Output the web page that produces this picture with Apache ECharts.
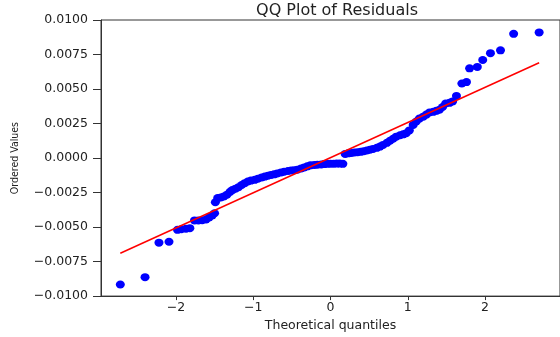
<!DOCTYPE html>
<html>
<head>
<meta charset="utf-8">
<script src="https://cdn.jsdelivr.net/npm/echarts@6/dist/echarts.min.js"></script>
<style>
  html, body { margin: 0; padding: 0; background: #fff; }
  #main { width: 560px; height: 337px; }
</style>
</head>
<body>
<div id="main"></div>
<script>
// 理论分位数
const quantiles = [
  -2.72, -2.40, -2.22, -2.09, -1.98, -1.93, -1.87, -1.82, -1.76, -1.71,
  -1.66, -1.61, -1.57, -1.53, -1.50, -1.49, -1.46, -1.42, -1.38, -1.34,
  -1.30, -1.27, -1.23, -1.19, -1.15, -1.11, -1.07, -1.03, -0.98, -0.94,
  -0.89, -0.85, -0.81, -0.77, -0.73, -0.69, -0.64, -0.60, -0.55, -0.51,
  -0.47, -0.43, -0.38, -0.34, -0.30, -0.26, -0.21, -0.17, -0.12, -0.08,
  -0.04, 0.00, 0.04, 0.08, 0.12, 0.16,
  0.19, 0.23, 0.27, 0.31, 0.35, 0.39, 0.43, 0.47, 0.51, 0.55,
  0.60, 0.64, 0.68, 0.73, 0.77, 0.81, 0.85, 0.90, 0.94, 0.98,
  1.02, 1.07, 1.11, 1.15, 1.20, 1.24, 1.28, 1.33, 1.37, 1.41,
  1.45, 1.49, 1.54, 1.58, 1.63, 1.70, 1.76, 1.80, 1.90, 1.97,
  2.07, 2.20, 2.37, 2.70,
]
// 排序后的残差
const orderedValues = [
  -0.00916, -0.00863, -0.00613, -0.00606, -0.00520, -0.00515, -0.00512, -0.00508, -0.00452, -0.00452,
  -0.00450, -0.00445, -0.00430, -0.00415, -0.00400, -0.00320, -0.00290, -0.00285, -0.00278, -0.00265,
  -0.00245, -0.00232, -0.00222, -0.00211, -0.00195, -0.00182, -0.00170, -0.00163, -0.00158, -0.00150,
  -0.00140, -0.00134, -0.00128, -0.00122, -0.00118, -0.00112, -0.00104, -0.00099, -0.00094, -0.00090,
  -0.00088, -0.00085, -0.00075, -0.00068, -0.00060, -0.00053, -0.00050, -0.00048, -0.00046, -0.00044,
  -0.00042, -0.00041, -0.00041, -0.00040, -0.00040, -0.00042,
  0.00030, 0.00034, 0.00037, 0.00040, 0.00042, 0.00045, 0.00050, 0.00055, 0.00060, 0.00066,
  0.00074, 0.00083, 0.00095, 0.00110, 0.00125, 0.00140, 0.00155, 0.00165, 0.00172, 0.00180,
  0.00200, 0.00240, 0.00265, 0.00286, 0.00300, 0.00315, 0.00330, 0.00335, 0.00342, 0.00350,
  0.00370, 0.00395, 0.00400, 0.00410, 0.00450, 0.00540, 0.00550, 0.00650, 0.00660, 0.00710,
  0.00760, 0.00780, 0.00900, 0.00910,
]
// 拟合线端点
const fitX = [-2.72, 2.70]
const fitY = [-0.0069, 0.0069]
// 刻度
const xTicks = [-2, -1, 0, 1, 2]

const minus = (s) => s.replace('-', '\u2212')
const labelFont = 'DejaVu Sans'

const myEchart = echarts.init(document.querySelector('#main'))
myEchart.setOption({
  animation: false,
  title: {
    text: 'QQ Plot of Residuals',
    left: 332,
    textAlign: 'center',
    top: -2,
    textStyle: {
      fontFamily: labelFont,
      fontSize: 16,
      fontWeight: 'normal',
      color: '#222',
    },
  },
  grid: {
    left: 101,
    top: 20,
    width: 465,
    height: 286,
    show: true,
    borderColor: '#333',
    borderWidth: 1,
  },
  xAxis: {
    type: 'value',
    min: -2.97,
    max: 2.97,
    name: 'Theoretical quantiles',
    nameLocation: 'middle',
    nameGap: 19,
    nameTextStyle: {
      fontFamily: labelFont,
      fontSize: 12.5,
      color: '#222',
    },
    axisLine: { onZero: false, lineStyle: { color: '#333' } },
    axisTick: {
      customValues: xTicks,
      length: 4,
      lineStyle: { color: '#333' },
    },
    axisLabel: {
      customValues: xTicks,
      margin: 5,
      fontFamily: labelFont,
      fontSize: 12.5,
      color: '#222',
      formatter: (v) => minus(String(v)),
    },
    splitLine: { show: false },
  },
  yAxis: {
    type: 'value',
    min: -0.01,
    max: 0.01,
    interval: 0.0025,
    name: 'Ordered Values',
    nameLocation: 'middle',
    nameRotate: 90,
    nameGap: 80,
    nameTextStyle: {
      fontFamily: 'DejaVu Sans Condensed',
      fontSize: 10.5,
      color: '#222',
    },
    axisLine: { show: true, onZero: false, lineStyle: { color: '#333' } },
    axisTick: { show: true, length: 8, lineStyle: { color: '#333' } },
    axisLabel: {
      margin: 13,
      fontFamily: labelFont,
      fontSize: 12.5,
      color: '#222',
      formatter: (v) => minus(v.toFixed(4)),
    },
    splitLine: { show: false },
  },
  series: [
    {
      type: 'scatter',
      data: quantiles.map((x, i) => [x, orderedValues[i]]),
      symbolSize: [9, 8],
      itemStyle: { color: '#0000ff', opacity: 1 },
      z: 2,
    },
    {
      type: 'line',
      data: fitX.map((x, i) => [x, fitY[i]]),
      showSymbol: false,
      lineStyle: { color: '#ff0000', width: 1.5 },
      z: 3,
    },
  ],
})
</script>
</body>
</html>
